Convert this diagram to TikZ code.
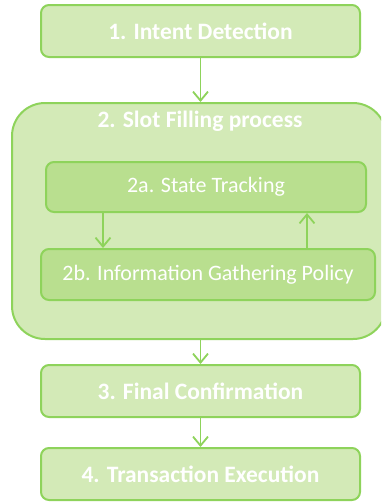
\documentclass[tikz,border=0pt]{standalone}
\usepackage{fontspec}
\setmainfont{Carlito}
\usetikzlibrary{arrows.meta,calc}
\definecolor{lightg}{HTML}{D3EAB7}
\definecolor{midg}{HTML}{B9DF8F}
\definecolor{lineg}{HTML}{8ED35B}
\tikzset{
  stepbox/.style={draw=lineg, line width=2pt, fill=lightg, rounded corners=8pt,
    inner sep=0pt, text=white, font=\fontsize{23.5}{26}\selectfont\bfseries},
  subbox/.style={draw=lineg, line width=2pt, fill=midg, rounded corners=8pt,
    inner sep=0pt, text=white, font=\fontsize{22}{25}\selectfont},
  bigbox/.style={draw=lineg, line width=2pt, fill=lightg, rounded corners=33pt, inner sep=0pt},
  flow/.style={draw=lineg, line width=1.8pt, -{Straight Barb[length=9pt,width=15pt,line width=1.8pt]}}
}
\begin{document}
\begin{tikzpicture}[x=1pt,y=-1pt]
\useasboundingbox (0,0) rectangle (381,504);
\clip (0,0) rectangle (381,504);
\node[stepbox, minimum width=319pt, minimum height=52pt] (s1) at (200.5,31) {1. Intent Detection};
\node[bigbox, minimum width=374pt, minimum height=236pt] (big) at (199,221) {};
\node[text=white, font=\fontsize{23.5}{26}\selectfont\bfseries, inner sep=0pt] (t2) at (200,121) {2. Slot Filling process};
\node[subbox, minimum width=320pt, minimum height=50pt] (sa) at (206,187) {2a. State Tracking};
\node[subbox, minimum width=334pt, minimum height=51pt] (sb) at (208,274.5) {2b. Information Gathering Policy};
\node[stepbox, minimum width=319pt, minimum height=52pt] (s3) at (200.5,391) {3. Final Confirmation};
\node[stepbox, minimum width=319pt, minimum height=52pt] (s4) at (200.5,474) {4. Transaction Execution};
\coordinate (xl) at (103,0);
\coordinate (xr) at (307,0);
\draw[flow] (s1.south) -- (s1.south |- big.north);
\draw[flow] (sa.south -| xl) -- (sb.north -| xl);
\draw[flow] (sb.north -| xr) -- (sa.south -| xr);
\draw[flow] (big.south -| s3.north) -- (s3.north);
\draw[flow] (s3.south) -- (s4.north);
\end{tikzpicture}
\end{document}
